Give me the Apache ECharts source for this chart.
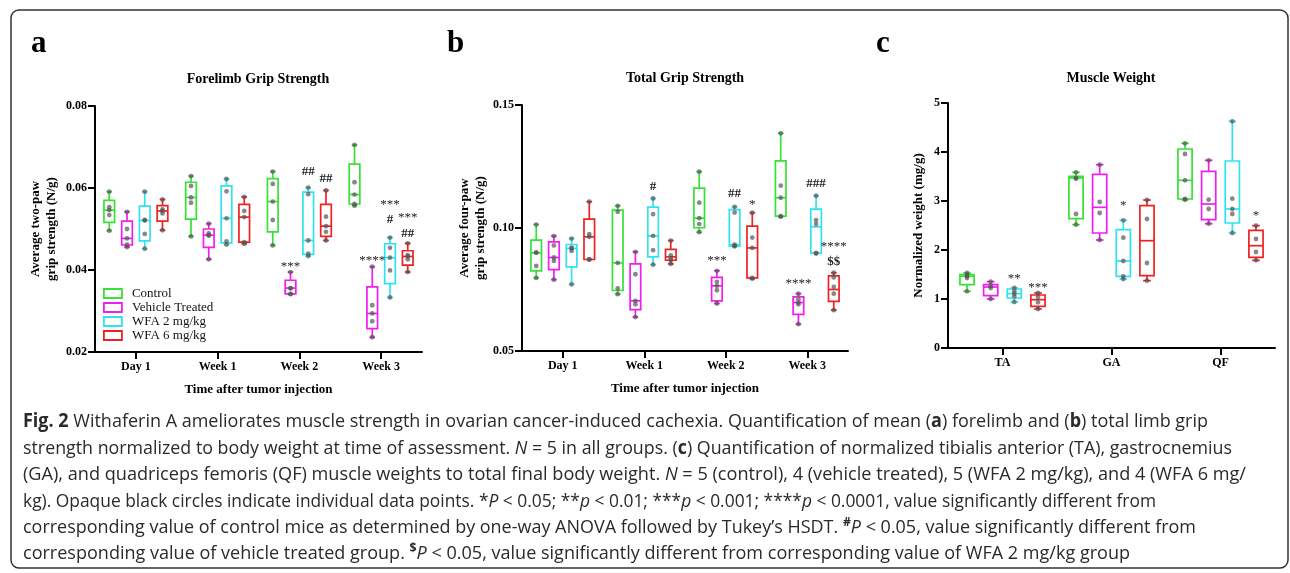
<!DOCTYPE html>
<html><head><meta charset="utf-8">
<script src="https://cdn.jsdelivr.net/npm/echarts@6/dist/echarts.min.js"></script>
<style>html,body{margin:0;padding:0;background:#fff}#c{width:1290px;height:573px}</style>
</head><body><div id="c"></div>
<script>
// ---------- data ----------
const groups = ['Control', 'Vehicle Treated', 'WFA 2 mg/kg', 'WFA 6 mg/kg'];
const groupColors = ['#36e236', '#f01ef0', '#30e2f0', '#ee2222'];
const timeLabels = ['Day 1', 'Week 1', 'Week 2', 'Week 3'];
const muscleLabels = ['TA', 'GA', 'QF'];
const foreTicks = [0.02, 0.08, 0.02];   // min, max, step
const totalTicks = [0.05, 0.15, 0.05];
const muscleTicks = [0, 5, 1];

// Panel a: forelimb grip strength, box = [min, Q1, median, Q3, max] per time point
const foreBoxControl = [[0.0496,0.0516,0.0546,0.0570,0.0591],[0.0482,0.0524,0.0577,0.0614,0.0629],[0.0460,0.0493,0.0567,0.0623,0.0640],[0.0557,0.0561,0.0584,0.0658,0.0705]];
const foreBoxVehicle = [[0.0456,0.0461,0.0477,0.0519,0.0542],[0.0426,0.0455,0.0485,0.0500,0.0513],[0.0341,0.0342,0.0356,0.0375,0.0395],[0.0236,0.0257,0.0294,0.0359,0.0408]];
const foreBoxWfa2 = [[0.0452,0.0471,0.0521,0.0556,0.0591],[0.0462,0.0466,0.0526,0.0605,0.0622],[0.0434,0.0438,0.0472,0.0590,0.0601],[0.0333,0.0367,0.0430,0.0464,0.0479]];
const foreBoxWfa6 = [[0.0497,0.0519,0.0544,0.0557,0.0572],[0.0464,0.0468,0.0529,0.0560,0.0578],[0.0472,0.0482,0.0507,0.0560,0.0594],[0.0395,0.0412,0.0433,0.0447,0.0465]];
const forePtsControl = [[0.0496,0.0534,0.0546,0.0553,0.0591],[0.0482,0.0564,0.0577,0.0605,0.0629],[0.0460,0.0522,0.0567,0.0610,0.0640],[0.0557,0.0561,0.0584,0.0614,0.0705]];
const forePtsVehicle = [[0.0456,0.0462,0.0477,0.0500,0.0542],[0.0426,0.0484,0.0485,0.0489,0.0513],[0.0341,0.0342,0.0355,0.0356,0.0395],[0.0236,0.0275,0.0294,0.0314,0.0408]];
const forePtsWfa2 = [[0.0452,0.0488,0.0521,0.0522,0.0591],[0.0462,0.0470,0.0526,0.0592,0.0622],[0.0434,0.0440,0.0472,0.0585,0.0601],[0.0333,0.0399,0.0430,0.0454,0.0479]];
const forePtsWfa6 = [[0.0497,0.0538,0.0544,0.0548,0.0572],[0.0464,0.0468,0.0529,0.0544,0.0578],[0.0472,0.0493,0.0507,0.0530,0.0594],[0.0395,0.0426,0.0433,0.0436,0.0465]];
// significance marks: [category, group, text, y value]
const foreMarks = [[2,1,'***',0.0416],[2,2,'##',0.0640],[2,3,'##',0.0623],[3,1,'****',0.0430],[3,2,'***',0.0566],[3,2,'#',0.0523],[3,3,'***',0.0534],[3,3,'##',0.0489]];

// Panel b: total grip strength
const totalBoxControl = [[0.0797,0.0826,0.0899,0.0951,0.1014],[0.0731,0.0746,0.0858,0.1073,0.1090],[0.0983,0.1001,0.1040,0.1162,0.1229],[0.1046,0.1048,0.1123,0.1273,0.1385]];
const totalBoxVehicle = [[0.0790,0.0831,0.0880,0.0944,0.0967],[0.0638,0.0668,0.0704,0.0854,0.0903],[0.0693,0.0704,0.0765,0.0799,0.0826],[0.0609,0.0649,0.0697,0.0720,0.0733]];
const totalBoxWfa2 = [[0.0771,0.0842,0.0917,0.0933,0.0957],[0.0851,0.0883,0.0968,0.1085,0.1120],[0.0925,0.0926,0.0932,0.1075,0.1086],[0.0896,0.0899,0.1005,0.1077,0.1131]];
const totalBoxWfa6 = [[0.0872,0.0872,0.0964,0.1036,0.1107],[0.0854,0.0869,0.0883,0.0913,0.0949],[0.0794,0.0797,0.0919,0.1008,0.1062],[0.0666,0.0702,0.0750,0.0805,0.0818]];
const totalPtsControl = [[0.0797,0.0846,0.0899,0.0901,0.1014],[0.0731,0.0754,0.0858,0.1066,0.1090],[0.0983,0.1016,0.1040,0.1103,0.1229],[0.1046,0.1048,0.1123,0.1172,0.1385]];
const totalPtsVehicle = [[0.0790,0.0866,0.0880,0.0929,0.0967],[0.0638,0.0690,0.0704,0.0812,0.0903],[0.0693,0.0747,0.0765,0.0781,0.0826],[0.0609,0.0690,0.0697,0.0710,0.0733]];
const totalPtsWfa2 = [[0.0771,0.0907,0.0917,0.0920,0.0957],[0.0851,0.0910,0.0968,0.1056,0.1120],[0.0925,0.0928,0.0932,0.1063,0.1086],[0.0896,0.0899,0.1016,0.1032,0.1131]];
const totalPtsWfa6 = [[0.0872,0.0872,0.0964,0.0975,0.1107],[0.0854,0.0869,0.0877,0.0889,0.0949],[0.0794,0.0797,0.0919,0.0961,0.1062],[0.0666,0.0733,0.0761,0.0799,0.0818]];
const totalMarks = [[1,2,'#',0.1170],[2,1,'***',0.0880],[2,2,'##',0.1138],[2,3,'*',0.1109],[3,1,'****',0.0788],[3,2,'###',0.1179],[3,3,'****',0.0937],[3,3,'$$',0.0862]];

// Panel c: muscle weight (mg/g)
const muscleBoxControl = [[1.157,1.293,1.463,1.497,1.531],[2.517,2.640,3.470,3.503,3.585],[3.027,3.041,3.422,4.061,4.177]];
const muscleBoxVehicle = [[1.000,1.068,1.245,1.293,1.354],[2.204,2.347,2.871,3.544,3.741],[2.537,2.619,2.939,3.606,3.830]];
const muscleBoxWfa2 = [[0.939,1.020,1.109,1.204,1.224],[1.408,1.463,1.776,2.415,2.605],[2.347,2.551,2.837,3.816,4.626]];
const muscleBoxWfa6 = [[0.796,0.850,0.986,1.082,1.122],[1.374,1.476,2.190,2.905,3.020],[1.789,1.850,2.088,2.401,2.497]];
const musclePtsControl = [[1.157,1.429,1.463,1.497,1.531],[2.517,2.735,3.456,3.470,3.585],[3.027,3.041,3.422,3.959,4.177]];
const musclePtsVehicle = [[1.000,1.224,1.265,1.354],[2.204,2.755,2.980,3.741],[2.537,2.837,3.027,3.830]];
const musclePtsWfa2 = [[0.939,1.054,1.109,1.157,1.224],[1.408,1.463,1.776,2.252,2.605],[2.347,2.735,2.837,3.048,4.626]];
const musclePtsWfa6 = [[0.796,0.932,1.041,1.122],[1.374,1.735,2.633,3.020],[1.789,1.959,2.225,2.497]];
const muscleMarks = [[0,2,'**',1.476],[0,3,'***',1.293],[1,2,'*',2.973],[2,3,'*',2.755]];

// ---------- styling / layout ----------
const SERIF = '"Liberation Serif", "Times New Roman", serif';
const SANS = '"Open Sans", "Noto Sans", sans-serif';
const LAYOUT = { step: 0.217, box: 0.13, cap: 0.07, dot: 2.4, lw: 1.7 };

function boxSeries(gi, g, boxes, pts) {
  const color = groupColors[g];
  return {
    type: 'custom', name: groups[g], xAxisIndex: gi, yAxisIndex: gi, clip: false,
    itemStyle: { color: color },
    encode: { x: 0, y: [1, 2, 3, 4, 5] },
    data: boxes.map((b, i) => [i].concat(b)),
    renderItem: function (params, api) {
      const ci = api.value(0);
      const band = api.size([1, 0])[0];
      const cx = api.coord([ci, api.value(3)])[0] + (g - 1.5) * LAYOUT.step * band;
      const py = k => api.coord([ci, api.value(k)])[1];
      const yMin = py(1), yQ1 = py(2), yMed = py(3), yQ3 = py(4), yMax = py(5);
      const hw = LAYOUT.box * band / 2, hc = LAYOUT.cap * band / 2;
      const ls = { stroke: color, lineWidth: LAYOUT.lw, fill: null };
      const children = [
        { type: 'line', shape: { x1: cx, y1: yMax, x2: cx, y2: yQ3 }, style: ls },
        { type: 'line', shape: { x1: cx, y1: yQ1, x2: cx, y2: yMin }, style: ls },
        { type: 'line', shape: { x1: cx - hc, y1: yMax, x2: cx + hc, y2: yMax }, style: ls },
        { type: 'line', shape: { x1: cx - hc, y1: yMin, x2: cx + hc, y2: yMin }, style: ls },
        { type: 'rect', shape: { x: cx - hw, y: yQ3, width: 2 * hw, height: yQ1 - yQ3 },
          style: { stroke: color, lineWidth: LAYOUT.lw, fill: 'transparent' } },
        { type: 'line', shape: { x1: cx - hw, y1: yMed, x2: cx + hw, y2: yMed }, style: ls }
      ];
      pts[params.dataIndex].forEach(v => {
        children.push({ type: 'circle', shape: { cx: cx, cy: api.coord([ci, v])[1], r: LAYOUT.dot },
          style: { fill: '#555', opacity: 0.7 } });
      });
      return { type: 'group', children: children };
    }
  };
}

function markSeries(gi, marks) {
  return {
    type: 'custom', xAxisIndex: gi, yAxisIndex: gi, clip: false, silent: true,
    encode: { x: 0, y: 1 },
    data: marks.map((m, i) => [m[0], m[3], i]),
    renderItem: function (params, api) {
      const m = marks[api.value(2)];
      const band = api.size([1, 0])[0];
      const p = api.coord([m[0], m[3]]);
      const star = m[2].indexOf('*') >= 0;
      return { type: 'text', x: p[0] + (m[1] - 1.5) * LAYOUT.step * band, y: p[1] + (star ? 3 : 0),
        style: { text: m[2], fill: '#222', fontFamily: SERIF, fontSize: 13,
          fontWeight: star ? 'normal' : 'bold', align: 'center', verticalAlign: 'middle' } };
    }
  };
}

const axisLine = { show: true, lineStyle: { color: '#000', width: 2 } };
const axisTick = { show: true, length: 7, lineStyle: { color: '#000', width: 2 } };
const tickFont = { color: '#000', fontFamily: SERIF, fontWeight: 'bold', fontSize: 12 };
const nameFont = { color: '#000', fontFamily: SERIF, fontWeight: 'bold', fontSize: 13, lineHeight: 16 };

function xAxis(gi, cats, name) {
  return { type: 'category', gridIndex: gi, data: cats, axisLine: axisLine,
    axisTick: Object.assign({ alignWithLabel: true }, axisTick),
    axisLabel: Object.assign({ margin: 9 }, tickFont), splitLine: { show: false },
    name: name, nameLocation: 'middle', nameGap: 30, nameTextStyle: nameFont };
}
function yAxis(gi, ticks, name, gap, digits) {
  return { type: 'value', gridIndex: gi, min: ticks[0], max: ticks[1], interval: ticks[2],
    axisLine: axisLine, axisTick: axisTick, splitLine: { show: false },
    axisLabel: Object.assign({ margin: 8, formatter: v => v.toFixed(digits) }, tickFont),
    name: name, nameLocation: 'middle', nameGap: gap, nameTextStyle: nameFont };
}

// caption
const captionLines = [
  '{b|Fig. 2} Withaferin A ameliorates muscle strength in ovarian cancer-induced cachexia. Quantification of mean ({b|a}) forelimb and ({b|b}) total limb grip',
  'strength normalized to body weight at time of assessment. {i|N} = 5 in all groups. ({b|c}) Quantification of normalized tibialis anterior (TA), gastrocnemius',
  '(GA), and quadriceps femoris (QF) muscle weights to total final body weight. {i|N} = 5 (control), 4 (vehicle treated), 5 (WFA 2 mg/kg), and 4 (WFA 6 mg/',
  'kg). Opaque black circles indicate individual data points. *{i|P} < 0.05; **{i|p} < 0.01; ***{i|p} < 0.001; ****{i|p} < 0.0001, value significantly different from',
  'corresponding value of control mice as determined by one-way ANOVA followed by Tukey’s HSDT. {s|#}{i|P} < 0.05, value significantly different from',
  'corresponding value of vehicle treated group. {s|$}{i|P} < 0.05, value significantly different from corresponding value of WFA 2 mg/kg group'
];
const CAP = { x: 23, y0: 422, dy: 26.4, size: 19, ends: [1208, 1232, 1246, 1156, 1196, 1130] };
const capStyles = {
  n: { fontSize: CAP.size, fontWeight: 'normal', fontStyle: 'normal' },
  b: { fontSize: CAP.size, fontWeight: 'bold', fontStyle: 'normal' },
  i: { fontSize: CAP.size, fontWeight: 'normal', fontStyle: 'italic' },
  s: { fontSize: 13, fontWeight: 'bold', fontStyle: 'normal' }
};
const mctx = document.createElement('canvas').getContext('2d');
function measure(str) {
  let w = 0, last = 0; const re = /\{(\w)\|([^}]*)\}/g; let m;
  const seg = (t, k) => { const s = capStyles[k]; mctx.font = s.fontStyle + ' ' + s.fontWeight + ' ' + s.fontSize + 'px ' + SANS; w += mctx.measureText(t).width; };
  while ((m = re.exec(str))) { seg(str.slice(last, m.index), 'n'); seg(m[2], m[1]); last = re.lastIndex; }
  seg(str.slice(last), 'n');
  return w;
}
const rich = {};
Object.keys(capStyles).forEach(k => {
  rich[k] = Object.assign({ fontFamily: SANS, fill: '#2a2a2a', lineHeight: 24 }, capStyles[k]);
});
rich.s.lineHeight = 12; rich.s.verticalAlign = 'top';

const graphics = [
  { type: 'rect', shape: { x: 11, y: 10, width: 1277, height: 558, r: 8 }, style: { fill: 'none', stroke: '#333', lineWidth: 1.5 } },
  { type: 'text', x: 31, y: 44, style: { text: 'a', fontFamily: SERIF, fontWeight: 'bold', fontSize: 31, fill: '#000', verticalAlign: 'middle' } },
  { type: 'text', x: 447, y: 44, style: { text: 'b', fontFamily: SERIF, fontWeight: 'bold', fontSize: 31, fill: '#000', verticalAlign: 'middle' } },
  { type: 'text', x: 876, y: 44, style: { text: 'c', fontFamily: SERIF, fontWeight: 'bold', fontSize: 31, fill: '#000', verticalAlign: 'middle' } }
];
captionLines.forEach((line, i) => {
  const w = measure(line);
  graphics.push({ type: 'text', x: CAP.x, y: CAP.y0 + i * CAP.dy, scaleX: (CAP.ends[i] - CAP.x) / w,
    style: { text: line, rich: rich, fontFamily: SANS, fontSize: CAP.size, fill: '#2a2a2a', verticalAlign: 'middle', align: 'left' } });
});

const titleStyle = { fontFamily: SERIF, fontWeight: 'bold', fontSize: 14, color: '#000' };
const option = {
  animation: false,
  backgroundColor: '#fff',
  title: [
    { text: 'Forelimb Grip Strength', left: 258, top: 72, textAlign: 'center', padding: 0, textStyle: titleStyle },
    { text: 'Total Grip Strength', left: 685, top: 71, textAlign: 'center', padding: 0, textStyle: titleStyle },
    { text: 'Muscle Weight', left: 1111, top: 71, textAlign: 'center', padding: 0, textStyle: titleStyle }
  ],
  legend: {
    orient: 'vertical', left: 103, top: 287, padding: 0, itemWidth: 18, itemHeight: 9, itemGap: 1,
    selectedMode: false,
    textStyle: { fontFamily: SERIF, fontSize: 13, lineHeight: 13, color: '#111', padding: [0, 0, 0, 5] },
    data: groups.map((n, i) => ({ name: n, icon: 'rect',
      itemStyle: { color: '#fff', borderColor: groupColors[i], borderWidth: 1.8 } }))
  },
  grid: [
    { left: 95, top: 106, width: 327, height: 246, outerBoundsMode: 'none' },
    { left: 522, top: 105, width: 326, height: 246, outerBoundsMode: 'none' },
    { left: 948, top: 103, width: 327, height: 245, outerBoundsMode: 'none' }
  ],
  xAxis: [
    xAxis(0, timeLabels, 'Time after tumor injection'),
    xAxis(1, timeLabels, 'Time after tumor injection'),
    xAxis(2, muscleLabels, '')
  ],
  yAxis: [
    yAxis(0, foreTicks, 'Average two-paw\ngrip strength (N/g)', 35, 2),
    yAxis(1, totalTicks, 'Average four-paw\ngrip strength (N/g)', 33, 2),
    yAxis(2, muscleTicks, 'Normalized weight (mg/g)', 21, 0)
  ],
  series: [
    boxSeries(0, 0, foreBoxControl, forePtsControl),
    boxSeries(0, 1, foreBoxVehicle, forePtsVehicle),
    boxSeries(0, 2, foreBoxWfa2, forePtsWfa2),
    boxSeries(0, 3, foreBoxWfa6, forePtsWfa6),
    markSeries(0, foreMarks),
    boxSeries(1, 0, totalBoxControl, totalPtsControl),
    boxSeries(1, 1, totalBoxVehicle, totalPtsVehicle),
    boxSeries(1, 2, totalBoxWfa2, totalPtsWfa2),
    boxSeries(1, 3, totalBoxWfa6, totalPtsWfa6),
    markSeries(1, totalMarks),
    boxSeries(2, 0, muscleBoxControl, musclePtsControl),
    boxSeries(2, 1, muscleBoxVehicle, musclePtsVehicle),
    boxSeries(2, 2, muscleBoxWfa2, musclePtsWfa2),
    boxSeries(2, 3, muscleBoxWfa6, musclePtsWfa6),
    markSeries(2, muscleMarks)
  ],
  graphic: { elements: graphics }
};
const chart = echarts.init(document.getElementById('c'));
chart.setOption(option);
</script></body></html>
